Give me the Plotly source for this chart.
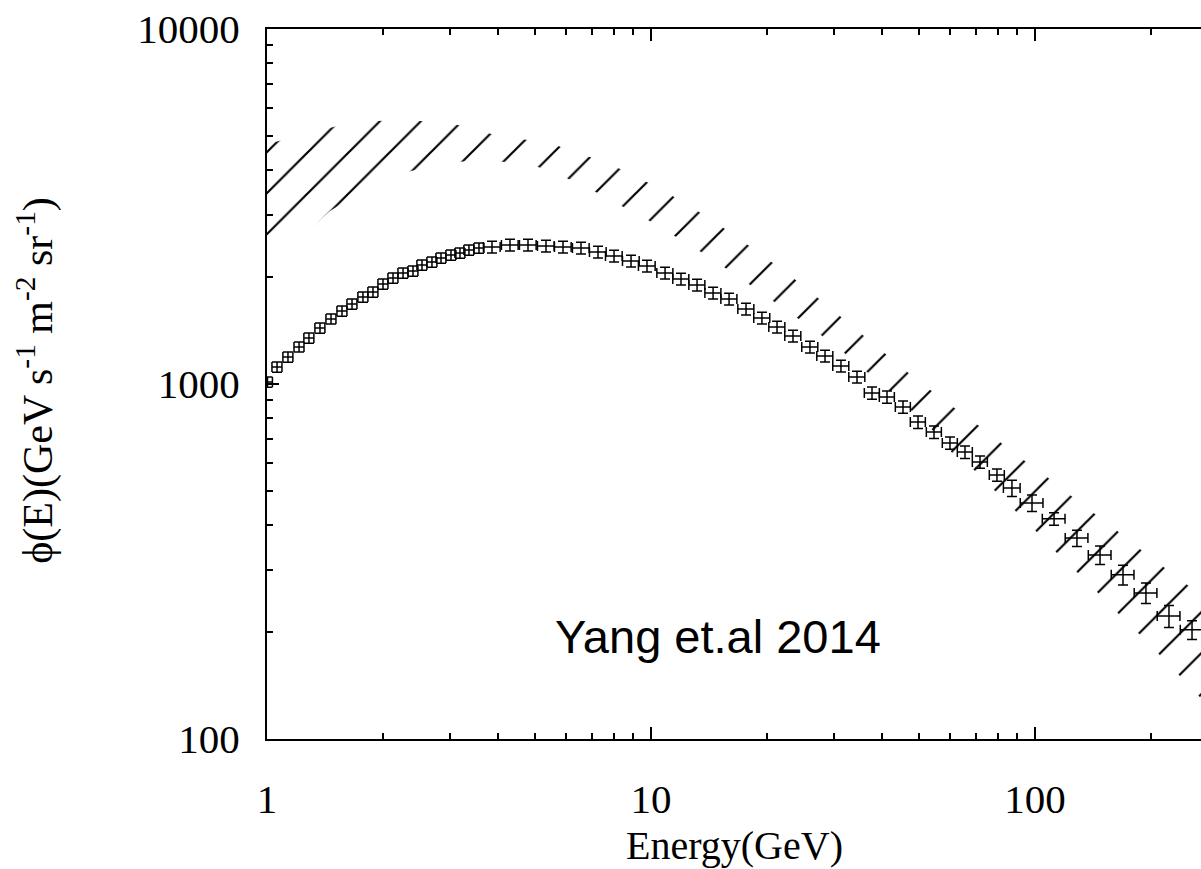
import plotly.graph_objects as go

# ---- data ----
energy = [1.003, 1.062, 1.134, 1.212, 1.286, 1.374, 1.468, 1.568, 1.665, 1.778,
          1.888, 2.005, 2.129, 2.261, 2.400, 2.533, 2.689, 2.839, 3.014, 3.181,
          3.357, 3.565, 3.854, 4.293, 4.783, 5.328, 5.900, 6.572, 7.278, 8.012,
          8.872, 9.763, 10.88, 11.97, 13.18, 14.51, 15.97, 17.68, 19.45, 21.29,
          23.43, 25.94, 28.39, 31.24, 34.39, 37.63, 41.17, 45.32, 49.58, 54.58,
          60.06, 65.72, 71.91, 79.61, 87.10, 98.22, 112.1, 128.6, 147.7, 169.5,
          194.5, 223.3, 256.4]
flux = [1013, 1116, 1191, 1272, 1348, 1438, 1525, 1606, 1680, 1758,
        1816, 1912, 1988, 2054, 2081, 2164, 2206, 2264, 2309, 2339,
        2385, 2416, 2432, 2464, 2464, 2448, 2432, 2416, 2353, 2294,
        2221, 2150, 2054, 1976, 1901, 1805, 1736, 1627, 1534, 1447,
        1365, 1272, 1199, 1124, 1046, 943, 919, 861, 781, 732,
        682, 643, 603, 554, 509, 462, 417, 368, 330, 290,
        258, 222, 203]
# relative half-widths of the error bars, in percent
energy_err_pct = [3.0] * 22 + [5.0] * 10 + [4.8] * 13 + [4.5] * 9 + [5.0] + [6.8] * 8
flux_err_pct = [3.3] * 22 + [3.8] * 23 + [4.0] * 9 + [5.3, 5.3, 4.0, 5.3, 6.0, 6.4, 6.7, 7.1, 6.0]

band_upper_energy = [1.0, 1.271, 1.597, 1.934, 2.315, 2.705, 3.144, 3.587, 4.118, 4.783,
                     5.557, 6.301, 7.191, 8.109, 9.085, 10.24, 12.63, 15.59, 19.00, 23.29,
                     28.05, 33.78, 40.68, 49.29, 59.70, 72.78, 88.16, 107.5, 130.2, 158.7,
                     192.2, 234.3, 285.6]
band_upper_flux = [4743, 5061, 5401, 5507, 5543, 5472, 5366, 5161, 4963, 4867,
                   4743, 4503, 4303, 4086, 3854, 3612, 3172, 2733, 2353, 2001,
                   1702, 1438, 1215, 1026, 878, 752, 639, 547, 465, 396,
                   336, 286, 243]
band_lower_energy = [1.0, 1.219, 1.459, 1.768, 2.371, 2.960, 3.544, 4.191, 4.898, 5.557,
                     6.264, 7.020, 7.867, 8.766, 9.822, 10.94, 13.50, 16.65, 20.29, 24.88,
                     30.32, 36.52, 43.98, 52.66, 57.62, 62.64, 68.55, 81.10, 96.47, 114.1,
                     135.8, 160.6, 191.1, 226.0, 267.4, 285.6]
band_lower_flux = [2068, 2578, 3072, 3497, 3981, 4194, 4276, 4221, 4140, 3956,
                   3731, 3520, 3298, 3092, 2897, 2698, 2353, 2028, 1747, 1495,
                   1280, 1081, 913, 761, 695, 611, 580, 484, 403, 334,
                   279, 232, 193, 160, 132, 123]

x_tick_vals = [1, 10, 100]
x_tick_text = ["1", "10", "100"]
y_tick_vals = [100, 1000, 10000]
y_tick_text = ["100", "1000", "10000"]
x_minor = [2, 3, 4, 5, 6, 7, 8, 9, 20, 30, 40, 50, 60, 70, 80, 90, 200]
y_minor = [200, 300, 400, 500, 600, 700, 800, 900, 2000, 3000, 4000, 5000, 6000, 7000, 8000, 9000]

ex = [e * p / 100 for e, p in zip(energy, energy_err_pct)]
ey = [f * p / 100 for f, p in zip(flux, flux_err_pct)]

fig = go.Figure()

# hatched band
fig.add_trace(go.Scatter(
    x=band_upper_energy + band_lower_energy[::-1],
    y=band_upper_flux + band_lower_flux[::-1],
    mode="lines", line=dict(width=0, color="rgba(0,0,0,0)"),
    fill="toself", fillcolor="rgba(0,0,0,0)",
    fillpattern=dict(shape="/", size=29, solidity=0.075,
                     fgcolor="black", fgopacity=1, bgcolor="rgba(0,0,0,0)"),
    hoverinfo="skip", showlegend=False,
))

# data points with x/y error bars
fig.add_trace(go.Scatter(
    x=energy, y=flux, mode="markers",
    marker=dict(size=2, color="rgba(0,0,0,0)"),
    error_x=dict(type="data", array=ex, arrayminus=ex, color="black", thickness=1.5, width=5),
    error_y=dict(type="data", array=ey, arrayminus=ey, color="black", thickness=1.5, width=5),
    showlegend=False,
))

serif = "Liberation Serif, Times New Roman, serif"
axis_common = dict(
    type="log", showline=True, linecolor="black", linewidth=2,
    ticks="inside", ticklen=12, tickwidth=1.5, tickcolor="black",
    showgrid=False, zeroline=False,
    tickfont=dict(family=serif, size=41, color="black"),
)

fig.update_xaxes(
    **axis_common, range=[0, 2.4323], tickmode="array",
    tickvals=x_tick_vals, ticktext=x_tick_text, mirror="ticks",
    ticklabelstandoff=23,
    minor=dict(tickmode="array", tickvals=x_minor, ticks="inside", ticklen=6,
               tickwidth=1.5, tickcolor="black", showgrid=False),
)
fig.update_yaxes(
    **axis_common, range=[2, 4], tickmode="array",
    tickvals=y_tick_vals, ticktext=y_tick_text,
    ticklabelstandoff=17,
    minor=dict(tickmode="array", tickvals=y_minor, ticks="inside", ticklen=6,
               tickwidth=1.5, tickcolor="black", showgrid=False),
)

fig.add_annotation(
    text="ϕ(E)(GeV s<sup>-1</sup> m<sup>-2</sup> sr<sup>-1</sup>)",
    xref="paper", yref="paper", x=-0.247, y=0.505, textangle=-90,
    xanchor="center", yanchor="middle", showarrow=False,
    font=dict(family=serif, size=42, color="black"),
)
fig.add_annotation(
    text="Energy(GeV)", xref="paper", yref="paper", x=0.5, y=-0.1493,
    xanchor="center", yanchor="middle", showarrow=False,
    font=dict(family=serif, size=40, color="black"),
)
fig.add_annotation(
    text="Yang et.al 2014", xref="paper", yref="paper", x=0.4829, y=0.1437,
    xanchor="center", yanchor="middle", showarrow=False,
    font=dict(family="Liberation Sans, Arial, sans-serif", size=47, color="black"),
)

fig.update_layout(
    width=1201, height=869,
    margin=dict(l=267, r=0, t=29, b=130),
    paper_bgcolor="white", plot_bgcolor="white",
)

fig.write_html("out.html")
